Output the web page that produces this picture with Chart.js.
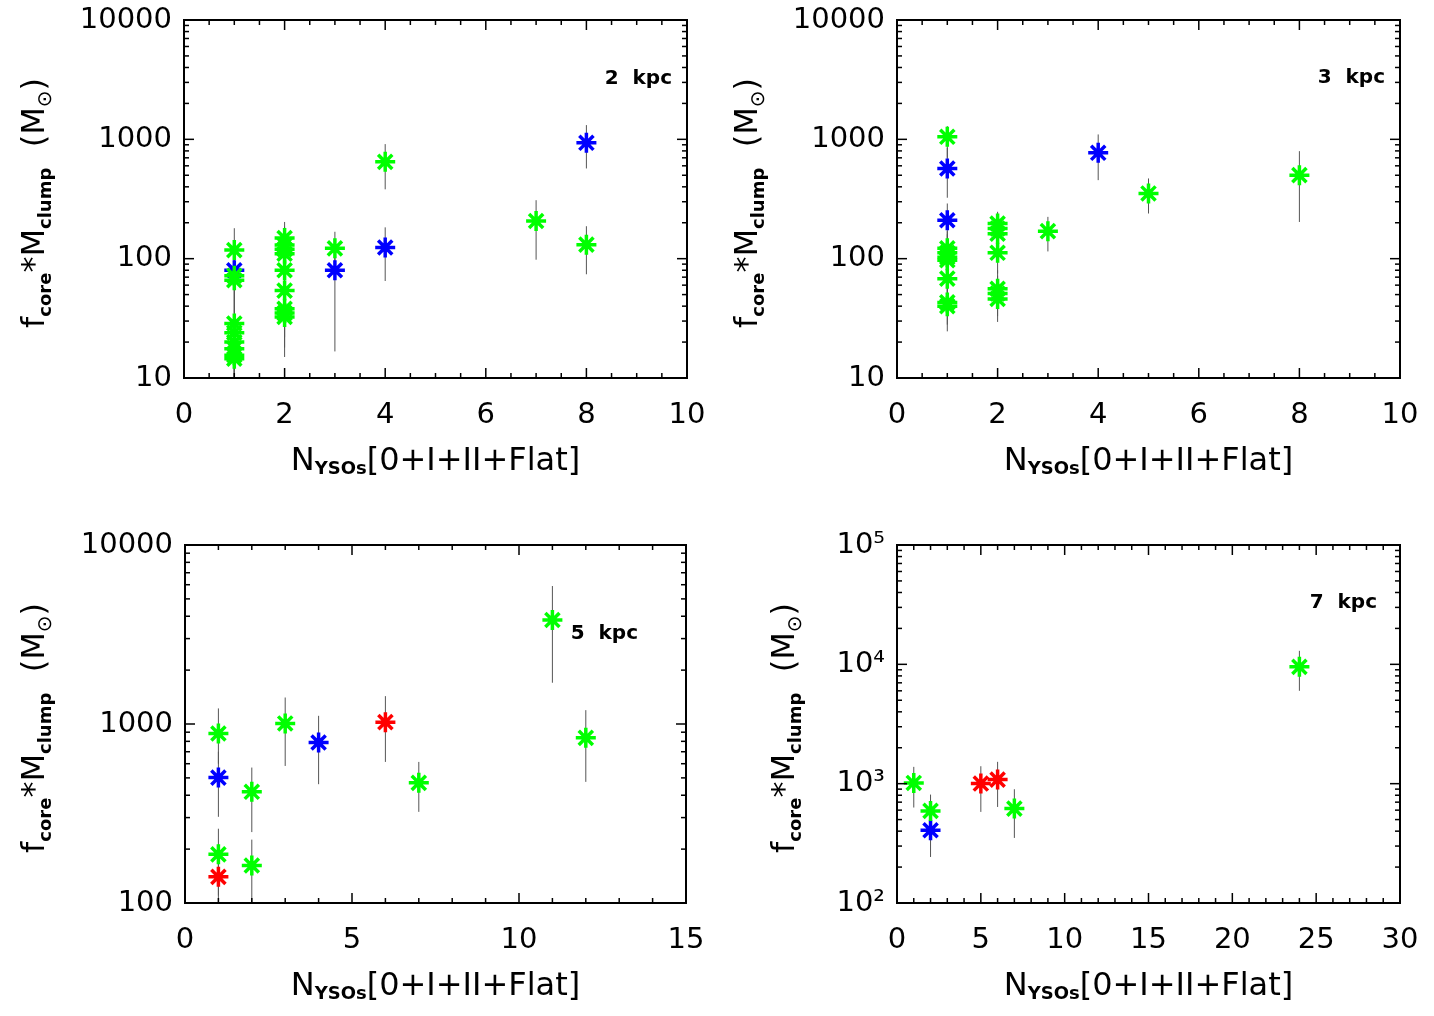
<!DOCTYPE html>
<html>
<head>
<meta charset="utf-8">
<script src="https://cdn.jsdelivr.net/npm/chart.js@4.4.0/dist/chart.umd.min.js"></script>
<style>
  body { margin: 0; background: #fff; width: 1434px; height: 1016px; position: relative; overflow: hidden; }
  canvas { position: absolute; }
</style>
</head>
<body>
<canvas id="c2kpc" width="717" height="508" style="left:0px;top:0px"></canvas>
<canvas id="c3kpc" width="717" height="508" style="left:713px;top:0px"></canvas>
<canvas id="c5kpc" width="714" height="491" style="left:1px;top:525px"></canvas>
<canvas id="c7kpc" width="717" height="491" style="left:713px;top:525px"></canvas>
<script>
// 2 kpc
const x2 = [1, 1, 1, 1, 1, 1, 1, 1, 1, 1, 2, 2, 2, 2, 2, 2, 2, 2, 2, 3, 3, 4, 4, 7, 8, 8];
const y2 = [118, 80, 72, 66, 28.6, 24, 20, 17.6, 15.5, 14.5, 149, 130, 120, 110, 80, 54, 38, 35, 32.5, 122, 80, 648, 124, 207, 935, 131];
const lo2 = [75, 45, 40, 35, 12, 9, 8, 7, 6, 5, 105, 90, 85, 75, 55, 35, 22, 18, 15, 85, 16.7, 381, 65, 98, 570, 74];
const hi2 = [180, 130, 115, 105, 45, 40, 32, 28, 25, 24, 203, 185, 170, 160, 115, 80, 55, 50, 48, 168, 115, 912, 183, 309, 1316, 187];
const k2 = ["g", "b", "g", "g", "g", "g", "g", "g", "g", "g", "g", "g", "g", "g", "g", "g", "g", "g", "g", "g", "b", "g", "b", "g", "b", "g"];

// 3 kpc
const x3 = [1, 1, 1, 1, 1, 1, 1, 1, 1, 1, 2, 2, 2, 2, 2, 2, 2, 3, 4, 5, 8];
const y3 = [1050, 570, 210, 122, 112, 103, 97, 68, 43, 40, 197, 179, 162, 112, 56, 51, 46, 170, 771, 352, 501];
const lo3 = [700, 324, 150, 80, 75, 70, 65, 45, 28, 24.6, 140, 125, 110, 75, 38, 33, 29.5, 115, 455, 239, 203];
const hi3 = [1291, 850, 290, 170, 160, 150, 140, 100, 62, 58, 247, 230, 215, 160, 80, 72, 66, 224, 1099, 470, 796];
const k3 = ["g", "b", "b", "g", "g", "g", "g", "g", "g", "g", "g", "g", "g", "g", "g", "g", "g", "g", "b", "g", "g"];

// 5 kpc
const x5 = [1, 1, 1, 1, 2, 2, 3, 4, 6, 7, 11, 12];
const y5 = [885, 502, 187, 140, 418, 162, 1007, 788, 1024, 469, 3809, 837];
const lo5 = [600, 303, 110, 80, 249, 90, 583, 461, 614, 323, 1700, 475];
const hi5 = [1222, 700, 260, 200, 571, 226, 1406, 1111, 1431, 614, 5900, 1195];
const k5 = ["g", "b", "g", "r", "g", "g", "g", "b", "r", "g", "g", "g"];

// 7 kpc
const x7 = [1, 2, 2, 5, 6, 7, 24];
const y7 = [1014, 591, 407, 1002, 1082, 618, 9530];
const lo7 = [631, 420, 243, 580, 638, 351, 6000];
const hi7 = [1383, 810, 590, 1400, 1524, 898, 12980];
const k7 = ["g", "g", "b", "r", "r", "g", "g"];

// axis ticks
const xTicks10 = [0, 2, 4, 6, 8, 10];
const xTicks15 = [0, 5, 10, 15];
const xTicks30 = [0, 5, 10, 15, 20, 25, 30];
const yTicksA = [10, 100, 1000, 10000];
const yLabelsA = ["10", "100", "1000", "10000"];
const yTicksB = [100, 1000, 10000];
const yLabelsB = ["100", "1000", "10000"];
const yTicksC = [100, 1000, 10000, 100000];
const yLabelsC = ["10²", "10³", "10⁴", "10⁵"];

const FONT = "'DejaVu Sans', sans-serif";
const COLORS = { g: "#00ff00", b: "#0000ff", r: "#ff0000" };

// draw text runs with subscripts, centred at 0 on the baseline
function drawRuns(ctx, runs) {
  let total = 0;
  runs.forEach(r => {
    ctx.font = (r.bold ? "bold " : "") + r.size + "px " + FONT;
    r.w = ctx.measureText(r.t).width;
    total += r.w;
  });
  let x = -total / 2;
  runs.forEach(r => {
    ctx.font = (r.bold ? "bold " : "") + r.size + "px " + FONT;
    ctx.fillText(r.t, x, r.dy || 0);
    x += r.w;
  });
}

const xTitle = [
  { t: "N", size: 32 },
  { t: "YSOs", size: 18, bold: true, dy: 4 },
  { t: "[0+I+II+Flat]", size: 32 }
];
const yTitle = [
  { t: "f", size: 32 },
  { t: "core", size: 18, bold: true, dy: 7 },
  { t: "*M", size: 32 },
  { t: "clump", size: 18, bold: true, dy: 7 },
  { t: "  (M", size: 32 },
  { t: "⊙", size: 20, dy: 7 },
  { t: ")", size: 32 }
];

// IDL-like frame: box, inward ticks on all sides, titles
const idlFrame = {
  id: "idlFrame",
  afterDraw(chart, args, opts) {
    const { ctx, chartArea: a, scales: { x, y } } = chart;
    ctx.save();
    ctx.strokeStyle = "#000";
    ctx.fillStyle = "#000";
    ctx.lineWidth = 1.5;
    const seg = (x1, y1, x2, y2) => { ctx.beginPath(); ctx.moveTo(x1, y1); ctx.lineTo(x2, y2); ctx.stroke(); };

    const nx = Math.round((x.max - x.min) / opts.xMinor);
    for (let i = 0; i <= nx; i++) {
      const v = x.min + i * opts.xMinor;
      const major = Math.abs(v / opts.xMajor - Math.round(v / opts.xMajor)) < 1e-6;
      const len = major ? 10 : 5;
      const px = x.getPixelForValue(v);
      seg(px, a.bottom, px, a.bottom - len);
      seg(px, a.top, px, a.top + len);
    }
    for (let d = y.min; d < y.max * 1.001; d *= 10) {
      for (let m = 1; m < 10; m++) {
        const v = d * m;
        if (v > y.max * 1.001) break;
        const len = m === 1 ? 10 : 5;
        const py = y.getPixelForValue(v);
        seg(a.left, py, a.left + len, py);
        seg(a.right, py, a.right - len, py);
      }
    }
    ctx.lineWidth = 2;
    ctx.strokeRect(a.left, a.top, a.right - a.left, a.bottom - a.top);

    ctx.textBaseline = "alphabetic";
    ctx.save();
    ctx.translate((a.left + a.right) / 2, a.bottom + 92);
    drawRuns(ctx, xTitle);
    ctx.restore();

    ctx.save();
    ctx.translate(a.left - opts.yTitleOffset, (a.top + a.bottom) / 2 + 4);
    ctx.rotate(-Math.PI / 2);
    drawRuns(ctx, yTitle);
    ctx.restore();

    ctx.font = "bold 20px " + FONT;
    ctx.textAlign = "right";
    ctx.fillText(opts.label, a.right - opts.labelRight, a.top + opts.labelTop);
    ctx.restore();
  }
};

function makePanel(id, xs, ys, los, his, kinds, p) {
  const datasets = [];
  xs.forEach((xv, i) => {
    datasets.push({
      data: [{ x: xv, y: los[i] }, { x: xv, y: his[i] }],
      showLine: true,
      borderColor: "#555555",
      borderWidth: 1,
      pointRadius: 0,
      order: 3
    });
  });
  ["b", "r", "g"].forEach((k, j) => {
    const pts = [];
    xs.forEach((xv, i) => { if (kinds[i] === k) pts.push({ x: xv, y: ys[i] }); });
    datasets.push({
      data: pts,
      pointStyle: "star",
      pointRadius: 10,
      borderWidth: 3.5,
      borderColor: COLORS[k],
      backgroundColor: COLORS[k],
      order: 2 - j
    });
  });

  return new Chart(document.getElementById(id), {
    type: "scatter",
    data: { datasets },
    options: {
      responsive: false,
      animation: false,
      events: [],
      layout: { padding: { left: 0, top: 20, right: p.padRight, bottom: 0 } },
      plugins: {
        legend: { display: false },
        tooltip: { enabled: false },
        idlFrame: p.frame
      },
      scales: {
        x: {
          type: "linear",
          min: p.xTicks[0],
          max: p.xTicks[p.xTicks.length - 1],
          afterBuildTicks: s => { s.ticks = p.xTicks.map(v => ({ value: v })); },
          afterFit: s => { s.height = p.xHeight; s.paddingLeft = 0; s.paddingRight = 0; },
          ticks: { font: { family: FONT, size: 29 }, color: "#000", padding: 20, maxRotation: 0, autoSkip: false },
          grid: { display: false, drawTicks: false },
          border: { display: false }
        },
        y: {
          type: "logarithmic",
          min: p.yTicks[0],
          max: p.yTicks[p.yTicks.length - 1],
          afterBuildTicks: s => { s.ticks = p.yTicks.map(v => ({ value: v })); },
          afterFit: s => { s.width = 184; s.paddingTop = 0; s.paddingBottom = 0; },
          ticks: {
            font: { family: FONT, size: 29 }, color: "#000", padding: 12, autoSkip: false,
            callback: (v, i) => p.yLabels[i]
          },
          grid: { display: false, drawTicks: false },
          border: { display: false }
        }
      }
    },
    plugins: [idlFrame]
  });
}

makePanel("c2kpc", x2, y2, lo2, hi2, k2, {
  xTicks: xTicks10, yTicks: yTicksA, yLabels: yLabelsA, xHeight: 130, padRight: 30,
  frame: { xMajor: 2, xMinor: 0.5, yTitleOffset: 140, label: "2  kpc", labelRight: 15, labelTop: 64 }
});
makePanel("c3kpc", x3, y3, lo3, hi3, k3, {
  xTicks: xTicks10, yTicks: yTicksA, yLabels: yLabelsA, xHeight: 130, padRight: 30,
  frame: { xMajor: 2, xMinor: 0.5, yTitleOffset: 140, label: "3  kpc", labelRight: 15, labelTop: 63 }
});
makePanel("c5kpc", x5, y5, lo5, hi5, k5, {
  xTicks: xTicks15, yTicks: yTicksB, yLabels: yLabelsB, xHeight: 113, padRight: 29,
  frame: { xMajor: 5, xMinor: 1, yTitleOffset: 141, label: "5  kpc", labelRight: 48, labelTop: 94 }
});
makePanel("c7kpc", x7, y7, lo7, hi7, k7, {
  xTicks: xTicks30, yTicks: yTicksC, yLabels: yLabelsC, xHeight: 113, padRight: 30,
  frame: { xMajor: 5, xMinor: 1, yTitleOffset: 103, label: "7  kpc", labelRight: 23, labelTop: 63 }
});
</script>
</body>
</html>
